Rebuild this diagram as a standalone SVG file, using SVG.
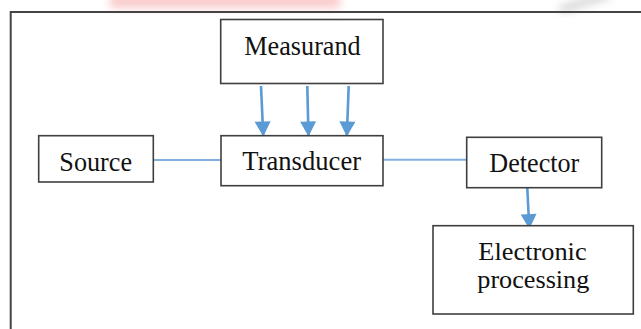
<svg xmlns="http://www.w3.org/2000/svg" width="641" height="329" viewBox="0 0 641 329">
  <defs>
    <marker id="ah" markerUnits="userSpaceOnUse" markerWidth="16" markerHeight="16" viewBox="0 0 15 16" refX="15" refY="8" orient="auto">
      <path d="M0,0 L15,8 L0,16 Z" fill="#5B9BD5"/>
    </marker>
    <filter id="blur" x="-20%" y="-50%" width="140%" height="200%">
      <feGaussianBlur stdDeviation="4"/>
    </filter>
  </defs>
  <style>
    .box { fill: #ffffff; stroke: #3f3f3f; stroke-width: 1.6; }
    .lbl { font-family: "Liberation Serif", "Times New Roman", serif; font-size: 27.5px; fill: #111111; text-anchor: middle; }
    .lbl2 { font-size: 25px; }
    .link { stroke: #7FB2E0; stroke-width: 2; fill: none; }
    .arrow { stroke: #5B9BD5; stroke-width: 2.6; fill: none; marker-end: url(#ah); }
  </style>
  <rect width="641" height="329" fill="#ffffff"/>
  <g id="watermark" opacity="0.35" filter="url(#blur)">
    <rect x="110" y="-6" width="230" height="14" fill="#f06a6a"/>
    <path d="M560,10 L610,-6" stroke="#888888" stroke-width="8"/>
  </g>
  <path id="frame" d="M10.7,340 V12 H650" fill="none" stroke="#444444" stroke-width="2"/>

  <g id="connectors">
    <line class="link" x1="153.3" y1="160" x2="221" y2="160"/>
    <line class="link" x1="383" y1="159.7" x2="466.7" y2="159.7"/>
    <line class="arrow" x1="261" y1="86" x2="263.3" y2="136.5"/>
    <line class="arrow" x1="307.3" y1="86" x2="308.5" y2="136.5"/>
    <line class="arrow" x1="348.7" y1="86" x2="346.8" y2="136.5"/>
    <line class="arrow" x1="527.3" y1="188" x2="529.3" y2="229"/>
  </g>

  <g id="measurand">
    <rect class="box" x="220.7" y="19.5" width="162.3" height="64"/>
    <text class="lbl" x="302.5" y="55" textLength="116.4" lengthAdjust="spacingAndGlyphs">Measurand</text>
  </g>
  <g id="source">
    <rect class="box" x="38.7" y="135.7" width="114.6" height="46.3"/>
    <text class="lbl" x="95.7" y="170.5" textLength="72.7" lengthAdjust="spacingAndGlyphs">Source</text>
  </g>
  <g id="transducer">
    <rect class="box" x="221" y="135.7" width="162" height="50"/>
    <text class="lbl" x="301.7" y="170" textLength="118.7" lengthAdjust="spacingAndGlyphs">Transducer</text>
  </g>
  <g id="detector">
    <rect class="box" x="466.7" y="137.3" width="135" height="50.4"/>
    <text class="lbl" x="534.3" y="172.3" textLength="90" lengthAdjust="spacingAndGlyphs">Detector</text>
  </g>
  <g id="electronic">
    <rect class="box" x="433" y="225.7" width="200.3" height="88.3"/>
    <text class="lbl lbl2" x="532.5" y="259.5" textLength="108.3" lengthAdjust="spacingAndGlyphs">Electronic</text>
    <text class="lbl lbl2" x="533.3" y="287.5" textLength="112" lengthAdjust="spacingAndGlyphs">processing</text>
  </g>
</svg>
